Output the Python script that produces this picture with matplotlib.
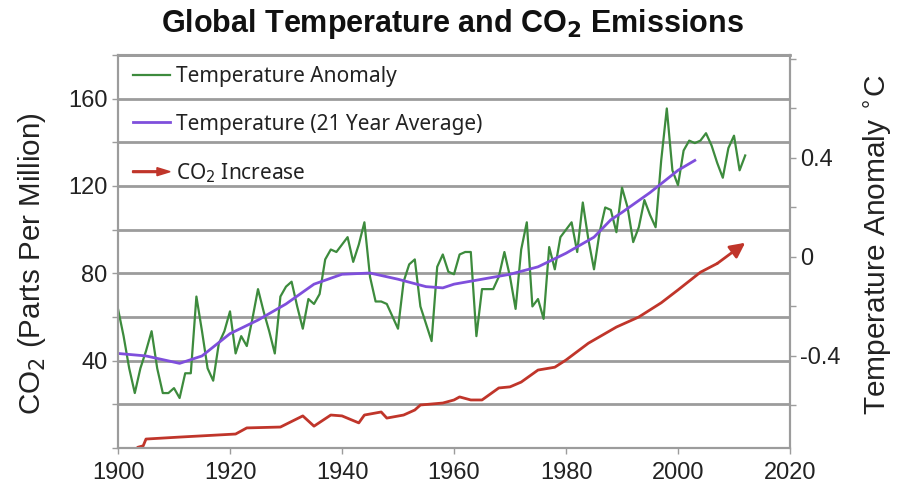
import matplotlib
matplotlib.use("Agg")
import matplotlib.pyplot as plt
import matplotlib.patches as mpatches
from matplotlib.legend_handler import HandlerPatch
from matplotlib.lines import Line2D
from matplotlib.ticker import MultipleLocator

# annual temperature anomaly, 1900-2012
temp_years = list(range(1900, 2013))
temp_anomaly = [
    -0.21, -0.32, -0.45, -0.55, -0.45, -0.38, -0.30, -0.45, -0.55, -0.55,
    -0.53, -0.57, -0.47, -0.47, -0.16, -0.30, -0.45, -0.50, -0.35, -0.30,
    -0.22, -0.39, -0.32, -0.36, -0.25, -0.13, -0.22, -0.30, -0.39, -0.16,
    -0.12, -0.10, -0.20, -0.29, -0.17, -0.19, -0.15, -0.01, 0.03, 0.02,
    0.05, 0.08, -0.02, 0.05, 0.14, -0.08, -0.18, -0.18, -0.19, -0.24,
    -0.29, -0.10, -0.03, -0.01, -0.20, -0.27, -0.34, -0.04, 0.01, -0.06,
    -0.07, 0.01, 0.02, 0.02, -0.32, -0.13, -0.13, -0.13, -0.08, 0.02,
    -0.08, -0.21, 0.03, 0.14, -0.20, -0.17, -0.25, 0.04, -0.05, 0.08,
    0.11, 0.14, 0.02, 0.22, 0.07, -0.05, 0.10, 0.20, 0.19, 0.10,
    0.28, 0.20, 0.06, 0.12, 0.23, 0.17, 0.12, 0.39, 0.60, 0.35,
    0.29, 0.43, 0.47, 0.46, 0.47, 0.50, 0.45, 0.38, 0.32, 0.44,
    0.49, 0.35, 0.41,
]

# 21 year running average
avg_years = [1900, 1905, 1911, 1915, 1920, 1925, 1930, 1935, 1940, 1945, 1950, 1955,
             1958, 1960, 1965, 1970, 1975, 1980, 1985, 1988, 1990, 1995, 2000, 2003]
avg_temp = [-0.39, -0.40, -0.43, -0.40, -0.31, -0.255, -0.19, -0.11, -0.07, -0.065, -0.09, -0.12,
            -0.125, -0.11, -0.09, -0.07, -0.04, 0.015, 0.08, 0.15, 0.18, 0.26, 0.35, 0.39]

# CO2 increase (ppm)
co2_years = [1903.5, 1904.5, 1905, 1911, 1921, 1923, 1929, 1933, 1935, 1938, 1940, 1943,
             1944, 1947, 1948, 1951, 1953, 1954, 1958, 1960, 1961, 1963, 1965, 1968,
             1970, 1972, 1975, 1978, 1980, 1984, 1989, 1993, 1997, 2000, 2004, 2007, 2012]
co2_ppm = [0.3, 1.0, 4.1, 5.0, 6.4, 9.2, 9.6, 14.7, 10.0, 15.1, 14.7, 11.5,
           15.1, 16.5, 13.7, 15.1, 17.4, 19.7, 20.6, 22.0, 23.4, 22.0, 22.0, 27.5,
           28.0, 30.2, 35.7, 37.0, 40.3, 48.0, 55.4, 60.0, 66.5, 72.4, 80.5, 84.5, 94.0]

green = "#3d8b3d"
purple = "#7f4fdc"
red = "#c0352a"
gray = "#9c9c9c"
ink = "#222222"

fig = plt.figure(figsize=(9.05, 4.88), dpi=100)
ax = fig.add_axes([118 / 905, 1 - 448 / 488, 672 / 905, 393 / 488])
ax2 = ax.twinx()

# CO2 line with an arrow head
ax.plot(co2_years[:-1], co2_ppm[:-1], color=red, lw=2, solid_capstyle="round")
ax.annotate("", xy=(co2_years[-1], co2_ppm[-1]), xytext=(co2_years[-2], co2_ppm[-2]),
            arrowprops=dict(arrowstyle="-|>,head_length=0.9,head_width=0.45",
                            color=red, lw=2, shrinkA=0, shrinkB=0))

ax.set_xlim(1900, 2020)
ax.set_ylim(0, 180)
ax.set_xticks(range(1900, 2021, 20))
ax.set_yticks([40, 80, 120, 160])
ax.yaxis.set_minor_locator(MultipleLocator(20))
ax.grid(axis="y", which="both", color=gray, lw=2)
ax.set_axisbelow(True)

ax2.plot(temp_years, temp_anomaly, color=green, lw=1.6)
ax2.plot(avg_years, avg_temp, color=purple, lw=2)
ax2.set_ylim(-0.772, 0.816)
ax2.set_yticks([-0.4, 0, 0.4])
ax2.set_yticklabels(["-0.4", "0", "0.4"])
ax2.yaxis.set_minor_locator(MultipleLocator(0.2))

for a in (ax, ax2):
    for s in a.spines.values():
        s.set_color(gray)
        s.set_linewidth(1.5)
    a.tick_params(which="both", colors=gray, labelcolor=ink, labelsize=17,
                  length=4, width=1)
    for lab in a.get_xticklabels() + a.get_yticklabels():
        lab.set_family("Liberation Sans")
ax.tick_params(axis="x", pad=6)
ax.spines["top"].set_linewidth(2)

ax.set_ylabel("CO$_2$ (Parts Per Million)", fontsize=21.3, family="Liberation Sans", color=ink)
ax.yaxis.set_label_coords(-0.104, 0.47)
ax2.set_ylabel("Temperature Anomaly $^{\\circ}$C", fontsize=21.5, family="Liberation Sans",
               color=ink)
ax2.yaxis.set_label_coords(1.105, 0.517)

fig.suptitle("Global Temperature and CO$_\\mathbf{2}$ Emissions", x=0.5, y=0.985,
             fontsize=22, fontweight="bold", family="Liberation Sans", color="#111111")


def make_arrow(legend, orig_handle, xdescent, ydescent, width, height, fontsize):
    return mpatches.FancyArrow(0, height / 2, width, 0, length_includes_head=True,
                               head_width=0.55 * height, head_length=0.35 * width,
                               width=0.12 * height, color=red)


handles = [Line2D([], [], color=green, lw=1.6),
           Line2D([], [], color=purple, lw=2),
           mpatches.FancyArrow(0, 0, 1, 0, color=red)]
labels = ["Temperature Anomaly", "Temperature (21 Year Average)", "CO$_2$ Increase"]
leg = ax2.legend(handles, labels, loc="upper left", bbox_to_anchor=(0.0, 1.009), frameon=False,
                 handlelength=1.8, handletextpad=0.3, labelspacing=1.27,
                 borderaxespad=0.3, prop={"family": "Noto Sans", "size": 15},
                 handler_map={mpatches.FancyArrow: HandlerPatch(patch_func=make_arrow)})
for t in leg.get_texts():
    t.set_color(ink)

fig.savefig("out.png", dpi=100)
